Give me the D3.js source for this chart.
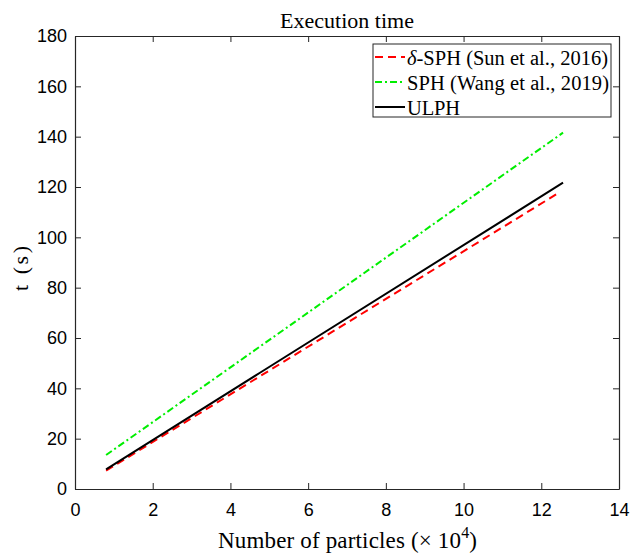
<!DOCTYPE html>
<html>
<head>
<meta charset="utf-8">
<script src="https://cdn.jsdelivr.net/npm/d3@7"></script>
<style>
  body { margin: 0; background: #fff; }
  .tick text { font-family: "Liberation Sans", Arial, sans-serif; font-size: 18px; fill: #000; }
  .axis path, .axis line { stroke: #262626; }
  .serif { font-family: "Liberation Serif", "Times New Roman", serif; fill: #000; }
</style>
</head>
<body>
<svg id="chart" width="631" height="555"></svg>
<script>
// number of particles (x 10^4)
const particles = [0.8, 4.76, 12.56];
const particlesDelta = [0.8, 4.76, 12.45];
// execution time (s)
const deltaSph = [7.3, 44.8, 117.7];
const sph = [13.5, 56.6, 141.6];
const ulph = [7.8, 46.2, 121.7];

const seriesNames = ['δ-SPH (Sun et al., 2016)', 'SPH (Wang et al., 2019)', 'ULPH'];
const xTicks = [0, 2, 4, 6, 8, 10, 12, 14];
const yTicks = [0, 20, 40, 60, 80, 100, 120, 140, 160, 180];

const margin = { top: 36, right: 12, bottom: 66, left: 75 };
const width = 631 - margin.left - margin.right;
const height = 555 - margin.top - margin.bottom;

const svg = d3.select('#chart');
const chart = svg.append('g')
  .attr('transform', `translate(${ margin.left }, ${ margin.top })`);

const x = d3.scaleLinear().domain([0, 14]).range([0, width]);
const y = d3.scaleLinear().domain([0, 180]).range([height, 0]);

const tickLen = 6;
chart.append('g')
  .attr('class', 'axis')
  .attr('transform', `translate(0, ${ height })`)
  .call(d3.axisBottom(x).tickValues(xTicks).tickSizeInner(-tickLen).tickSizeOuter(0).tickPadding(14));
chart.append('g')
  .attr('class', 'axis')
  .call(d3.axisLeft(y).tickValues(yTicks).tickSizeInner(-tickLen).tickSizeOuter(0).tickPadding(8));
chart.append('g')
  .attr('class', 'axis')
  .call(d3.axisTop(x).tickValues(xTicks).tickSizeInner(-tickLen).tickSizeOuter(0).tickFormat(''));
chart.append('g')
  .attr('class', 'axis')
  .attr('transform', `translate(${ width }, 0)`)
  .call(d3.axisRight(y).tickValues(yTicks).tickSizeInner(-tickLen).tickSizeOuter(0).tickFormat(''));

chart.selectAll('.axis path').attr('stroke-width', 1.2);

const line = d3.line().x(d => x(d[0])).y(d => y(d[1]));

const series = [
  { name: seriesNames[0], xs: particlesDelta, ys: deltaSph, color: '#ff0000', dash: '8,5', len: 201 },
  { name: seriesNames[1], xs: particles, ys: sph, color: '#00ee00', dash: '7,3,2,3', len: 202 },
  { name: seriesNames[2], xs: particles, ys: ulph, color: '#000000', dash: null, len: 53 }
];

series.forEach(s => {
  chart.append('path')
    .datum(s.xs.map((v, i) => [v, s.ys[i]]))
    .attr('fill', 'none')
    .attr('stroke', s.color)
    .attr('stroke-width', 2)
    .attr('stroke-dasharray', s.dash)
    .attr('d', line);
});

// legend
const legend = svg.append('g').attr('transform', 'translate(373, 44)');
legend.append('rect')
  .attr('width', 238)
  .attr('height', 73)
  .attr('fill', '#fff')
  .attr('stroke', '#262626')
  .attr('stroke-width', 1);
series.forEach((s, i) => {
  const row = legend.append('g').attr('transform', `translate(0, ${ 13 + i * 25 })`);
  row.append('line')
    .attr('x1', 2).attr('x2', 32)
    .attr('stroke', s.color)
    .attr('stroke-width', 2)
    .attr('stroke-dasharray', s.dash);
  const t = row.append('text')
    .attr('class', 'serif')
    .attr('x', 34).attr('y', 8)
    .attr('textLength', s.len)
    .style('font-size', '20.5px');
  if (i === 0) {
    t.append('tspan').style('font-style', 'italic').text('δ');
    t.append('tspan').text(s.name.slice(1));
  } else {
    t.text(s.name);
  }
});

// title and axis labels
svg.append('text')
  .attr('class', 'serif')
  .attr('x', 280).attr('y', 28)
  .attr('textLength', 134)
  .style('font-size', '22px')
  .text('Execution time');

const xl = svg.append('text')
  .attr('class', 'serif')
  .attr('x', 218).attr('y', 548)
  .attr('textLength', 259)
  .style('font-size', '23px');
xl.append('tspan').text('Number of particles (× 10');
xl.append('tspan').attr('dy', -10).style('font-size', '16px').text('4');
xl.append('tspan').attr('dy', 10).text(')');

svg.append('text')
  .attr('class', 'serif')
  .attr('transform', 'translate(28, 291) rotate(-90)')
  .attr('textLength', 45)
  .style('font-size', '22px')
  .text('t (s)');
</script>
</body>
</html>
